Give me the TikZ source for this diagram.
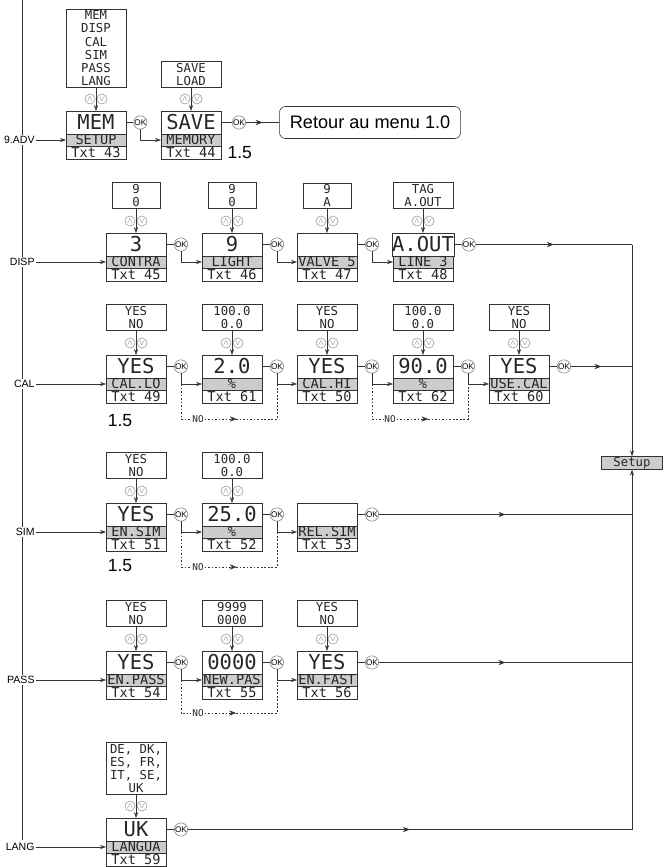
\documentclass[tikz,border=0pt]{standalone}
\usepackage{fontspec}
\setmainfont{Liberation Sans}
\newfontfamily\lcd{DejaVu Sans Mono}
\usetikzlibrary{positioning,arrows.meta,decorations.markings}

% one display: value, grey menu line, text number
\newcommand\screen[6]{%
  \node[valbox] (#1) at (#2,#3) {#4};
  \node[lblbox,below=0pt of #1] (#1l) {#5};
  \node[txtbox,below=0pt of #1l] (#1t) {#6};
}
% up/down keys between choice list and display
\newcommand\arrowkeys[4]{%
  \node[updn] (#4u) at (#1-6,#2-12) {$\wedge$};
  \node[updn] (#4d) at (#1+6,#2-12) {$\vee$};
  \draw[->] (#3.south) -- (#4.north);
}

\begin{document}
\begin{tikzpicture}[x=0.03cm,y=-0.03cm,line width=0.5pt,draw=black!80,
  >={Stealth[length=5pt,width=3.5pt]},
  valbox/.style={draw,anchor=north,outer sep=0pt,minimum width=1.8cm,minimum height=0.69cm,
    inner sep=0pt,text height=12.6pt,text depth=0pt,text=black!85,font=\lcd\fontsize{17.5}{17.5}\selectfont},
  lblbox/.style={draw,fill=black!20,outer sep=0pt,minimum width=1.8cm,minimum height=0.36cm,
    inner sep=0pt,text height=8.4pt,text depth=0pt,text=black!85,font=\lcd\fontsize{11.6}{11.6}\selectfont},
  txtbox/.style={lblbox,fill=none,minimum height=0.39cm},
  optbox/.style={draw,anchor=south,align=center,minimum width=1.8cm,inner ysep=1.5pt,
    text=black!85,font=\lcd\fontsize{10.5}{11.3}\selectfont},
  narrow/.style={minimum width=1.44cm},
  updn/.style={circle,draw=black!40,minimum size=0.3cm,inner sep=0pt,text=black!55,font=\scriptsize},
  ok/.style={circle,draw=black!50,fill=white,minimum size=0.4cm,inner sep=0pt,font=\fontsize{7}{7}\selectfont},
  lab/.style={anchor=east,fill=white,inner sep=1pt,font=\fontsize{9}{9}\selectfont},
  note/.style={font=\fontsize{15}{15}\selectfont},
  nolab/.style={fill=white,inner sep=0.5pt,text=black!85,font=\lcd\fontsize{8}{8}\selectfont},
  noline/.style={dash pattern=on 1.5pt off 1.5pt},
  setupbox/.style={draw,fill=black!20,minimum width=1.83cm,minimum height=0.39cm,inner sep=0pt,
    text=black!85,font=\lcd\fontsize{10.5}{10.5}\selectfont},
  retour/.style={draw,rounded corners=5pt,minimum width=5.43cm,minimum height=0.96cm,
    font=\fontsize{15.5}{15.5}\selectfont},
  midtip/.style={decoration={markings,mark=at position #1 with {\arrow{Stealth[length=6pt,width=4.5pt]}}},
    postaction={decorate}},
  midtip/.default=0.5]
\useasboundingbox (0,0) rectangle (663,867);

% left rail
\coordinate (railtop) at (22,0);
\coordinate (railbot) at (22,840);
\draw (railtop) -- (railbot);

% 9.ADV
\node[optbox] (o11) at (96,88) {MEM\\DISP\\CAL\\SIM\\PASS\\LANG};
\node[optbox] (o12) at (191,88) {SAVE\\LOAD};
\screen{m11}{96}{111}{MEM}{SETUP}{Txt 43}
\screen{m12}{191}{111}{SAVE}{MEMORY}{Txt 44}
\arrowkeys{96}{111}{o11}{m11}
\arrowkeys{191}{111}{o12}{m12}
\node[ok,right=0.22cm of m11] (k11) {OK};
\node[ok,right=0.33cm of m12] (k12) {OK};
\node[retour,right=1cm of k12] (ret) {Retour au menu 1.0};
\node[note,right=2pt of m12t] (v1) {1.5};
\node[lab] (adv) at (36,0 |- m11l) {9.ADV};
\draw[->] (adv) -- (m11l.west);
\draw (m11.east) -- (k11);
\draw[->] (k11) |- (m12l.west);
\draw (m12.east) -- (k12);
\draw[midtip] (k12) -- (ret);

% DISP
\node[optbox,narrow] (o21) at (136,209) {9\\0};
\node[optbox,narrow] (o22) at (232,209) {9\\0};
\node[optbox,narrow] (o23) at (327,209) {9\\A};
\node[optbox] (o24) at (423,209) {TAG\\A.OUT};
\screen{m21}{136}{233}{3}{CONTRA}{Txt 45}
\screen{m22}{232}{233}{9}{LIGHT}{Txt 46}
\screen{m23}{327}{233}{}{VALVE 5}{Txt 47}
\screen{m24}{423}{233}{A.OUT}{LINE 3}{Txt 48}
\arrowkeys{136}{233}{o21}{m21}
\arrowkeys{232}{233}{o22}{m22}
\arrowkeys{327}{233}{o23}{m23}
\arrowkeys{423}{233}{o24}{m24}
\foreach \i in {1,...,4} {
  \node[ok,right=0.24cm of m2\i] (k2\i) {OK};
  \draw (m2\i.east) -- (k2\i);
}
\node[lab] (disp) at (36,0 |- m21l) {DISP};
\draw[->] (disp) -- (m21l.west);
\draw[->] (k21) |- (m22l.west);
\draw[->] (k22) |- (m23l.west);
\draw[->] (k23) |- (m24l.west);

% Setup
\node[setupbox] (setup) at (632,463) {Setup};
\draw[midtip] (k24) -- (setup |- k24);
\draw[->] (setup |- k24) -- (setup.north);

% CAL
\node[optbox] (o31) at (136,331) {YES\\NO};
\node[optbox] (o32) at (232,331) {100.0\\0.0};
\node[optbox] (o33) at (327,331) {YES\\NO};
\node[optbox] (o34) at (423,331) {100.0\\0.0};
\node[optbox] (o35) at (519,331) {YES\\NO};
\screen{m31}{136}{355}{YES}{CAL.LO}{Txt 49}
\screen{m32}{232}{355}{2.0}{\%}{Txt 61}
\screen{m33}{327}{355}{YES}{CAL.HI}{Txt 50}
\screen{m34}{423}{355}{90.0}{\%}{Txt 62}
\screen{m35}{519}{355}{YES}{USE.CAL}{Txt 60}
\foreach \i/\x in {1/136,2/232,3/327,4/423,5/519} {
  \arrowkeys{\x}{355}{o3\i}{m3\i}
  \node[ok,right=0.24cm of m3\i] (k3\i) {OK};
  \draw (m3\i.east) -- (k3\i);
}
\node[note] (v2) at (120,421) {1.5};
\node[lab] (cal) at (36,0 |- m31l) {CAL};
\draw[->] (cal) -- (m31l.west);
\draw[->] (k31) |- (m32l.west);
\draw[->] (k32) |- (m33l.west);
\draw[->] (k33) |- (m34l.west);
\draw[->] (k34) |- (m35l.west);
\draw[midtip] (k35) -- (setup |- k35);
\node[nolab] (no1) at (198,419) {NO};
\draw[noline] (k31 |- m31l) |- (no1.west);
\draw[noline,midtip=0.3] (no1.east) -| (k32 |- m32l);
\node[nolab] (no2) at (390,419) {NO};
\draw[noline] (k33 |- m33l) |- (no2.west);
\draw[noline,midtip=0.3] (no2.east) -| (k34 |- m34l);

% SIM
\node[optbox] (o41) at (136,479) {YES\\NO};
\node[optbox] (o42) at (232,479) {100.0\\0.0};
\screen{m41}{136}{503}{YES}{EN.SIM}{Txt 51}
\screen{m42}{232}{503}{25.0}{\%}{Txt 52}
\screen{m43}{327}{503}{}{REL.SIM}{Txt 53}
\arrowkeys{136}{503}{o41}{m41}
\arrowkeys{232}{503}{o42}{m42}
\foreach \i in {1,2,3} {
  \node[ok,right=0.24cm of m4\i] (k4\i) {OK};
  \draw (m4\i.east) -- (k4\i);
}
\node[note] (v3) at (120,566) {1.5};
\node[lab] (sim) at (36,0 |- m41l) {SIM};
\draw[->] (sim) -- (m41l.west);
\draw[->] (k41) |- (m42l.west);
\draw[->] (k42) |- (m43l.west);
\draw[midtip] (k43) -- (setup |- k43);
\node[nolab] (no3) at (198,567) {NO};
\draw[noline] (k41 |- m41l) |- (no3.west);
\draw[noline,midtip=0.3] (no3.east) -| (k42 |- m42l);

% PASS
\node[optbox] (o51) at (136,627) {YES\\NO};
\node[optbox] (o52) at (232,627) {9999\\0000};
\node[optbox] (o53) at (327,627) {YES\\NO};
\screen{m51}{136}{651}{YES}{EN.PASS}{Txt 54}
\screen{m52}{232}{651}{0000}{NEW.PAS}{Txt 55}
\screen{m53}{327}{651}{YES}{EN.FAST}{Txt 56}
\foreach \i/\x in {1/136,2/232,3/327} {
  \arrowkeys{\x}{651}{o5\i}{m5\i}
  \node[ok,right=0.24cm of m5\i] (k5\i) {OK};
  \draw (m5\i.east) -- (k5\i);
}
\node[lab] (pass) at (36,0 |- m51l) {PASS};
\draw[->] (pass) -- (m51l.west);
\draw[->] (k51) |- (m52l.west);
\draw[->] (k52) |- (m53l.west);
\draw[midtip] (k53) -- (setup |- k53);
\node[nolab] (no4) at (198,713) {NO};
\draw[noline] (k51 |- m51l) |- (no4.west);
\draw[noline,midtip=0.3] (no4.east) -| (k52 |- m52l);

% LANG
\node[optbox] (o61) at (136,795) {DE, DK,\\ES, FR,\\IT, SE,\\UK};
\screen{m61}{136}{818}{UK}{LANGUA}{Txt 59}
\arrowkeys{136}{818}{o61}{m61}
\node[ok,right=0.24cm of m61] (k61) {OK};
\draw (m61.east) -- (k61);
\node[lab] (lang) at (36,0 |- m61l) {LANG};
\draw[->] (lang) -- (m61l.west);
\draw[midtip] (k61) -- (setup |- k61);
\draw[->] (setup |- k61) -- (setup.south);
\end{tikzpicture}
\end{document}
